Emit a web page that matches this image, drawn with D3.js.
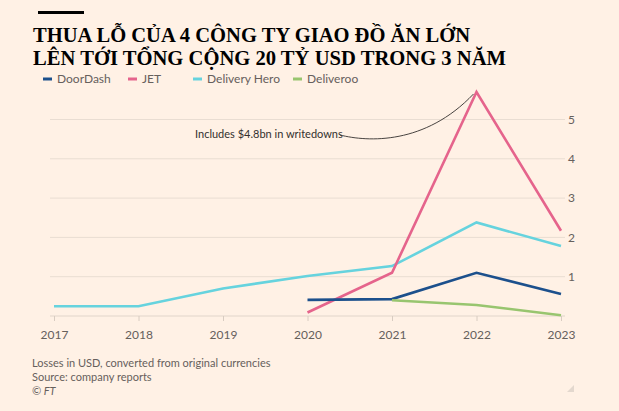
<!DOCTYPE html>
<html><head><meta charset="utf-8">
<script src="https://cdn.jsdelivr.net/npm/d3@7"></script>
<style>
html,body{margin:0;padding:0;background:#fff1e5;}
svg{display:block;}
</style></head>
<body>
<svg id="c" width="619" height="411"></svg>
<script>
const years = [2017, 2018, 2019, 2020, 2021, 2022, 2023];
const doorDash = [null, null, null, 0.41, 0.43, 1.10, 0.56];
const jet = [null, null, null, 0.09, 1.10, 5.70, 2.17];
const deliveryHero = [0.25, 0.25, 0.70, 1.02, 1.27, 2.38, 1.78];
const deliveroo = [null, null, null, null, 0.40, 0.28, 0.02];
const seriesNames = ["DoorDash", "JET", "Delivery Hero", "Deliveroo"];
const seriesColors = ["#1c508c", "#e5648c", "#66d3de", "#98c56f"];
const yTicks = [1, 2, 3, 4, 5];
const titleLines = ["THUA LỖ CỦA 4 CÔNG TY GIAO ĐỒ ĂN LỚN", "LÊN TỚI TỔNG CỘNG 20 TỶ USD TRONG 3 NĂM"];
const notes = ["Losses in USD, converted from original currencies", "Source: company reports"];
const annotationText = "Includes $4.8bn in writedowns";

const svg = d3.select("#c");
svg.append("rect").attr("width", 619).attr("height", 411).attr("fill", "#fff1e5");

// header
svg.append("rect").attr("x", 38).attr("y", 11).attr("width", 46).attr("height", 3).attr("fill", "#000");
const titleWidths = [437, 473];
titleLines.forEach((t, i) => {
  svg.append("text").attr("x", 33).attr("y", 42 + i * 22.5)
    .attr("font-family", "Liberation Serif, Times New Roman, serif").attr("font-weight", "bold")
    .attr("font-size", 21.5).attr("fill", "#000")
    .attr("textLength", titleWidths[i]).attr("lengthAdjust", "spacingAndGlyphs").text(t);
});

// legend
const legX = [43, 128, 193, 293];
seriesNames.forEach((n, i) => {
  svg.append("line").attr("x1", legX[i]).attr("x2", legX[i] + 9).attr("y1", 79).attr("y2", 79)
    .attr("stroke", seriesColors[i]).attr("stroke-width", 3);
  svg.append("text").attr("x", legX[i] + 14).attr("y", 79).attr("dy", "0.35em")
    .attr("font-family", "Lato, sans-serif").attr("font-size", 12).attr("fill", "#66605c").text(n);
});

const x = d3.scalePoint().domain(years).range([54, 561]);
const y = d3.scaleLinear().domain([0, 5]).range([316, 119.5]);

// grid
const g = svg.append("g");
g.selectAll("line.grid").data(yTicks).join("line")
  .attr("x1", 50).attr("x2", 565).attr("y1", d => y(d)).attr("y2", d => y(d))
  .attr("stroke", "#e9ddd2").attr("stroke-width", 1);
g.selectAll("text.yl").data(yTicks).join("text")
  .attr("x", 568).attr("y", d => y(d)).attr("dy", "0.35em")
  .attr("font-family", "Lato, sans-serif").attr("font-size", 12).attr("fill", "#66605c").text(d => d);

// x axis
const xAxis = svg.append("g").attr("transform", `translate(0,${y(0)})`)
  .call(d3.axisBottom(x).tickSize(5).tickPadding(9));
xAxis.select(".domain").attr("d", "M50,0H565").attr("stroke", "#e1d5ca");
xAxis.selectAll(".tick line").attr("stroke", "#d8ccc1");
xAxis.selectAll(".tick text").attr("font-family", "Lato, sans-serif").attr("font-size", 12).attr("fill", "#66605c");

// lines
const allSeries = [doorDash, jet, deliveryHero, deliveroo];
const line = d3.line().defined(d => d[1] !== null).x(d => x(d[0])).y(d => y(d[1]));
const drawOrder = [2, 1, 0, 3];
drawOrder.forEach(i => {
  const data = years.map((yr, k) => [yr, allSeries[i][k]]);
  svg.append("path").attr("d", line(data)).attr("fill", "none")
    .attr("stroke", seriesColors[i]).attr("stroke-width", 2.6).attr("stroke-linejoin", "miter");
});

// annotation
svg.append("text").attr("x", 195).attr("y", 138)
  .attr("font-family", "Lato, sans-serif").attr("font-size", 11).attr("fill", "#33302e").text(annotationText);
const px = x(2022), py = y(5.70);
svg.append("path")
  .attr("d", `M340,135 C368,142 425,145 ${px - 3},${py + 2}`)
  .attr("fill", "none").attr("stroke", "#33302e").attr("stroke-width", 0.9);

// notes
notes.forEach((t, i) => {
  svg.append("text").attr("x", 32).attr("y", 363 + i * 14).attr("dy", "0.35em")
    .attr("font-family", "Lato, sans-serif").attr("font-size", 11).attr("fill", "#66605c").text(t);
});
svg.append("text").attr("x", 32).attr("y", 391).attr("dy", "0.35em").attr("font-style", "italic")
  .attr("font-family", "Lato, sans-serif").attr("font-size", 11).attr("fill", "#66605c").text("© FT");
svg.append("path").attr("d", "M574,385 L574,392 L567,392 Z").attr("fill", "#e3d8ce");
</script>
</body></html>
